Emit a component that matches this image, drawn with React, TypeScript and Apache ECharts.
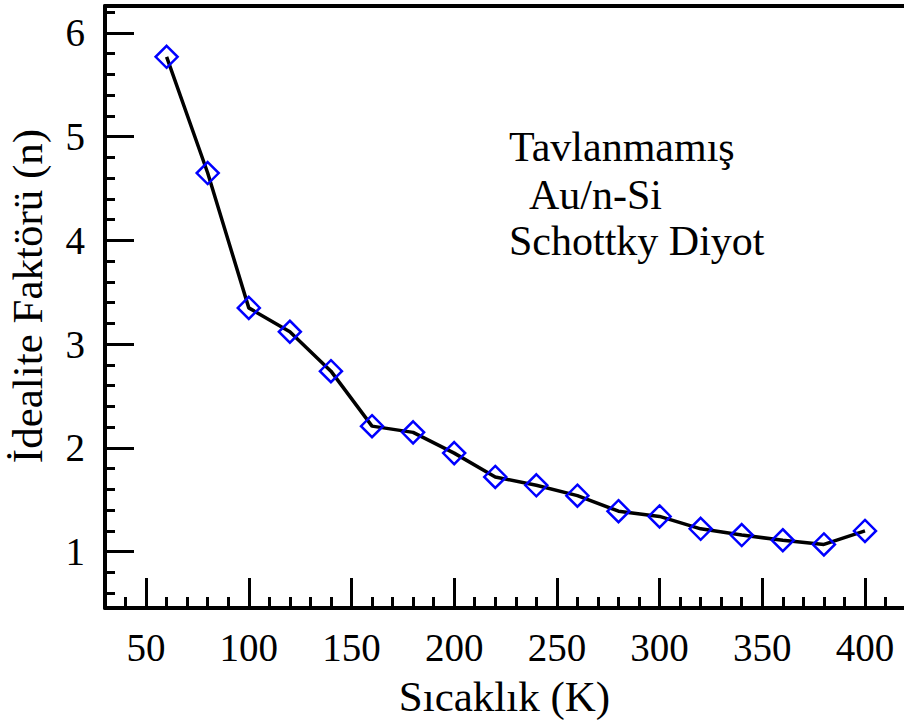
import React, { useEffect, useRef } from "react";
import * as echarts from "echarts";

const temperatures = [60, 80, 100, 120, 140, 160, 180, 200, 220, 240, 260, 280, 300, 320, 340, 360, 380, 400];
const idealityFactor = [5.77, 4.65, 3.35, 3.12, 2.74, 2.21, 2.15, 1.95, 1.72, 1.64, 1.54, 1.39, 1.34, 1.22, 1.16, 1.11, 1.07, 1.2];

const xMajorTicks = [50, 100, 150, 200, 250, 300, 350, 400];
const xMinorTicks = [40, 60, 70, 80, 90, 110, 120, 130, 140, 160, 170, 180, 190, 210, 220, 230, 240, 260, 270, 280, 290, 310, 320, 330, 340, 360, 370, 380, 390, 410];
const yMajorTicks = [1, 2, 3, 4, 5, 6];
const yMinorTicks = [0.6, 0.8, 1.2, 1.4, 1.6, 1.8, 2.2, 2.4, 2.6, 2.8, 3.2, 3.4, 3.6, 3.8, 4.2, 4.4, 4.6, 4.8, 5.2, 5.4, 5.6, 5.8, 6.2];

const xTitle = "Sıcaklık (K)";
const yTitle = "İdealite Faktörü (n)";
const noteLines = ["Tavlanmamış", "Au/n-Si", "Schottky Diyot"];

const FONT = "'Liberation Serif', 'Times New Roman', serif";

export default function App() {
  const ref = useRef<HTMLDivElement>(null);
  useEffect(() => {
    if (!ref.current) return;
    const chart = echarts.init(ref.current, undefined, { renderer: "svg" });
    const xMin = 30, xMax = 419, yMin = 0.457, yMax = 6.26;
    const axisLine = { show: true, lineStyle: { color: "#000", width: 4 } };
    chart.setOption({
      animation: false,
      backgroundColor: "#fff",
      grid: { left: 105, right: 0, top: 6, bottom: 119 },
      xAxis: [
        {
          type: "value", min: xMin, max: xMax, position: "bottom",
          axisLine,
          axisTick: { show: true, inside: true, length: 30, customValues: xMajorTicks, lineStyle: { color: "#000", width: 3 } },
          axisLabel: { show: true, customValues: xMajorTicks, fontFamily: FONT, fontSize: 39, color: "#000", margin: 20 },
          splitLine: { show: false },
          name: xTitle, nameLocation: "middle", nameGap: 88,
          nameTextStyle: { fontFamily: FONT, fontSize: 43, color: "#000", verticalAlign: "middle" },
        },
        {
          type: "value", min: xMin, max: xMax, position: "bottom",
          axisLine: { show: false },
          axisTick: { show: true, inside: true, length: 11, customValues: xMinorTicks, lineStyle: { color: "#000", width: 3 } },
          axisLabel: { show: false },
          splitLine: { show: false },
        },
        {
          type: "value", min: xMin, max: xMax, position: "top",
          axisLine,
          axisTick: { show: false },
          axisLabel: { show: false },
          splitLine: { show: false },
        },
      ],
      yAxis: [
        {
          type: "value", min: yMin, max: yMax, position: "left",
          axisLine,
          axisTick: { show: true, inside: true, length: 29, customValues: yMajorTicks, lineStyle: { color: "#000", width: 3 } },
          axisLabel: { show: true, customValues: yMajorTicks, fontFamily: FONT, fontSize: 39, color: "#000", margin: 20 },
          splitLine: { show: false },
        },
        {
          type: "value", min: yMin, max: yMax, position: "left",
          axisLine: { show: false },
          axisTick: { show: true, inside: true, length: 10, customValues: yMinorTicks, lineStyle: { color: "#000", width: 3 } },
          axisLabel: { show: false },
          splitLine: { show: false },
        },
      ],
      series: [
        {
          type: "line",
          xAxisIndex: 0,
          yAxisIndex: 0,
          data: temperatures.map((t, i) => [t, idealityFactor[i]]),
          lineStyle: { color: "#000", width: 3.5 },
          symbol: "diamond",
          symbolSize: 22,
          itemStyle: { color: "rgba(0,0,0,0)", borderColor: "#0000ff", borderWidth: 2.5 },
          z: 3,
        },
      ],
      graphic: [
        {
          type: "text", x: 27, y: 296, rotation: Math.PI / 2,
          style: { text: yTitle, font: `43px ${FONT}`, fill: "#000", align: "center", verticalAlign: "middle" },
        },
        {
          type: "text", x: 509, y: 147,
          style: { text: noteLines[0], font: `42px ${FONT}`, fill: "#000", align: "left", verticalAlign: "middle" },
        },
        {
          type: "text", x: 529, y: 195,
          style: { text: noteLines[1], font: `42px ${FONT}`, fill: "#000", align: "left", verticalAlign: "middle" },
        },
        {
          type: "text", x: 509, y: 241,
          style: { text: noteLines[2], font: `42px ${FONT}`, fill: "#000", align: "left", verticalAlign: "middle" },
        },
      ],
    });
    return () => chart.dispose();
  }, []);
  return <div ref={ref} style={{ position: "fixed", left: 0, top: 0, width: 904, height: 727 }} />;
}
